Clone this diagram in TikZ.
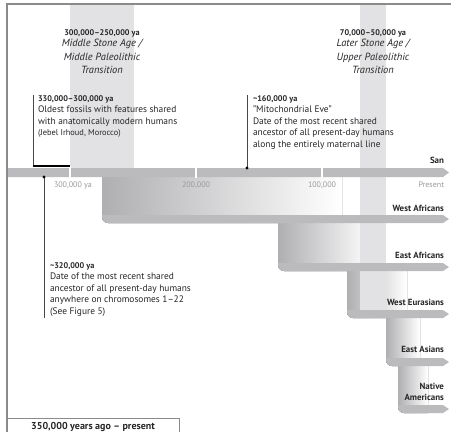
\documentclass[tikz,border=0pt]{standalone}
\usepackage{fontspec}
\setmainfont{PT Sans}
\definecolor{barc}{HTML}{BBBBBE}
\definecolor{bandc}{HTML}{E2E2E4}
\definecolor{gradc}{HTML}{AFAFB2}
\definecolor{tickc}{HTML}{9A9A9A}
\definecolor{framec}{HTML}{8A8A8A}
\definecolor{txtc}{HTML}{262626}
\begin{document}
\begin{tikzpicture}[x=1pt,y=-1pt,
  every node/.style={inner sep=0pt, outer sep=0pt, text=txtc},
  body/.style={anchor=base west, font=\fontsize{9.4}{11.5}\selectfont},
  hd/.style={anchor=base west, font=\fontsize{8.2}{9}\selectfont\bfseries},
  ital/.style={anchor=base, font=\fontsize{10.4}{13}\selectfont\itshape},
  hdc/.style={anchor=base, font=\fontsize{8.2}{9}\selectfont\bfseries},
  pop/.style={anchor=base east, font=\fontsize{8.9}{10}\selectfont\bfseries},
  ticklab/.style={anchor=base, text=tickc, font=\fontsize{8}{9}\selectfont},
  leader/.style={draw=txtc!85, line width=0.9pt},
]
\useasboundingbox (0,0) rectangle (451,432);
\fill[white] (0,0) rectangle (451,432);

% middle stone age band
\fill[bandc] (70,5) rectangle (134,168);

% branch gradients
\newcommand\branchgrad[4]{% x0, ytop, ybot, width
  \fill[left color=gradc, right color=white]
    (#1+#4,#2) -- (#1,#2) [rounded corners=6pt] -- (#1,#3) [sharp corners] -- (#1+#4,#3) -- cycle;}
\branchgrad{102}{177}{223}{240}
\branchgrad{278}{223}{271}{95}
\branchgrad{347}{271}{318}{60}
\branchgrad{386}{318}{366}{34}
\branchgrad{398}{366}{413}{30}

% later stone age band
\fill[bandc] (360,5) rectangle (386,311);

% bars
\newcommand\branchbar[2]{% x0, ybot
  \fill[barc] (#1,#2-8) [rounded corners=6pt] -- (#1,#2) [sharp corners] -- (443,#2) -- (449,#2-4) -- (443,#2-8) -- cycle;}
\fill[barc] (7,168) -- (443,168) -- (449,172.5) -- (443,177) -- (7,177) -- cycle;
\branchbar{102}{223}
\branchbar{278}{271}
\branchbar{347}{318}
\branchbar{386}{366}
\branchbar{398}{413}

% tick gaps
\foreach \tx in {70,196,322} \draw[white, line width=1.6pt] (\tx,166) -- (\tx,177.5);

% frame
\draw[framec, line width=1.3pt] (451,4) -- (7,4) -- (7,432);
\draw[framec, line width=1pt] (7,418) -- (179,418) -- (179,432);
\node[font=\fontsize{10}{11}\selectfont\bfseries, anchor=base] (period) at (93,429) {350,000 years ago – present};

% tick labels
\node[ticklab, anchor=base west] (t300) at (54,187) {300,000 ya};
\node[ticklab] (t200) at (196,187) {200,000};
\node[ticklab] (t100) at (322,187) {100,000};
\node[ticklab, anchor=base east] (t0) at (444,187) {Present};

% population labels
\node[pop] (san) at (444,163) {San};
\node[pop] (wa) at (444,211) {West Africans};
\node[pop] (ea) at (444,258) {East Africans};
\node[pop] (we) at (444,305) {West Eurasians};
\node[pop] (eas) at (444,352) {East Asians};
\node[pop] (na1) at (444,389) {Native};
\node[pop] (na2) at (444,400) {Americans};

% top transitions
\node[hdc] (msah) at (102,35) {300,000–250,000 ya};
\node[ital] (msa1) at (102,46) {Middle Stone Age /};
\node[ital] (msa2) at (102,60) {Middle Paleolithic};
\node[ital] (msa3) at (102,73.5) {Transition};
\node[hdc] (lsah) at (373,35) {70,000–50,000 ya};
\node[ital] (lsa1) at (373,46) {Later Stone Age /};
\node[ital] (lsa2) at (373,60) {Upper Paleolithic};
\node[ital] (lsa3) at (373,73.5) {Transition};

% fossils annotation
\coordinate (fA) at (33,95);
\coordinate (fB) at (33,166);
\coordinate (fC) at (70,166);
\draw[leader] (fA) -- (fB);
\draw[black, line width=1.8pt] (32.5,166) -- (fC);
\node[hd] (f0) at (38,101) {330,000–300,000 ya};
\node[body] (f1) at (38,112.5) {Oldest fossils with features shared};
\node[body] (f2) at (38,124) {with anatomically modern humans};
\node[body, font=\fontsize{8.4}{10}\selectfont] (f3) at (38,135.5) {(Jebel Irhoud, Morocco)};

% mitochondrial eve
\coordinate (mA) at (247,95);
\coordinate (mB) at (247,168);
\draw[leader] (mA) -- (mB);
\fill[black] (mB) circle (1.6);
\node[hd] (m0) at (253,101) {\textasciitilde160,000 ya};
\node[body] (m1) at (253,112.5) {"Mitochondrial Eve"};
\node[body] (m2) at (253,124) {Date of the most recent shared};
\node[body] (m3) at (253,135.5) {ancestor of all present-day humans};
\node[body] (m4) at (253,147) {along the entirely maternal line};

% 320k annotation
\coordinate (cA) at (44,177);
\coordinate (cB) at (44,318);
\draw[leader] (cA) -- (cB);
\fill[black] (cA) circle (1.6);
\node[hd] (c0) at (50,268) {\textasciitilde320,000 ya};
\node[body] (c1) at (50,279.5) {Date of the most recent shared};
\node[body] (c2) at (50,291) {ancestor of all present-day humans};
\node[body] (c3) at (50,302.5) {anywhere on chromosomes 1–22};
\node[body] (c4) at (50,314) {(See Figure 5)};
\end{tikzpicture}
\end{document}
